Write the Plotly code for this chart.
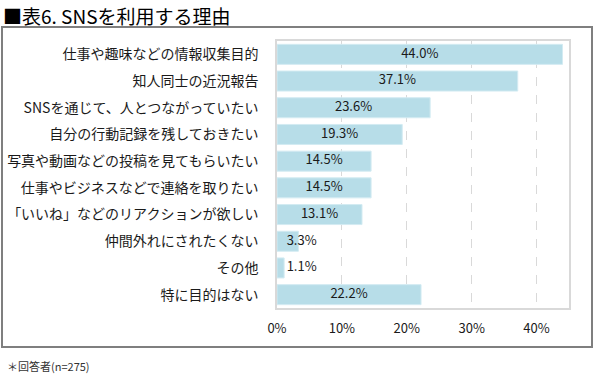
import plotly.graph_objects as go

categories = [
    "仕事や趣味などの情報収集目的",
    "知人同士の近況報告",
    "SNSを通じて、人とつながっていたい",
    "自分の行動記録を残しておきたい",
    "写真や動画などの投稿を見てもらいたい",
    "仕事やビジネスなどで連絡を取りたい",
    "「いいね」などのリアクションが欲しい",
    "仲間外れにされたくない",
    "その他",
    "特に目的はない",
]
values = [44.0, 37.1, 23.6, 19.3, 14.5, 14.5, 13.1, 3.3, 1.1, 22.2]
tick_vals = [0, 10, 20, 30, 40]
tick_text = ["0%", "10%", "20%", "30%", "40%"]
title_text = "■表6. SNSを利用する理由"
note_text = "＊回答者(n=275)"

FONT = "Noto Sans CJK JP"
W, H = 601, 375
ML, MR, MT, MB = 277, 32, 41, 67
pw, ph = W - ML - MR, H - MT - MB

def px_x(p):
    return (p - ML) / pw

def px_y(p):
    return (H - MB - p) / ph

fig = go.Figure()
fig.add_trace(go.Bar(
    x=values, y=categories, orientation="h",
    marker=dict(color="#B7DDE8", line=dict(color="#D3EBF2", width=1)),
    width=0.75, hoverinfo="skip",
))
label_x = [max(v / 2, 3.8) for v in values]
fig.add_trace(go.Scatter(
    x=label_x, y=categories, mode="text",
    text=[f"{v:.1f}%" for v in values],
    textposition="middle center",
    textfont=dict(family=FONT, size=13, color="#1a1a1a"),
    hoverinfo="skip",
))

fig.update_layout(
    width=W, height=H,
    margin=dict(l=ML, r=MR, t=MT, b=MB, autoexpand=False),
    paper_bgcolor="white", plot_bgcolor="white",
    showlegend=False,
    font=dict(family=FONT, size=13, color="#1a1a1a"),
    xaxis=dict(
        range=[0, 45], tickvals=tick_vals, ticktext=tick_text,
        showgrid=True, gridcolor="#D9D9D9", griddash="dash", gridwidth=1,
        zeroline=False, showline=True, mirror=True,
        linecolor="#D9D9D9", linewidth=1.5,
        tickfont=dict(family=FONT, size=13), ticks="",
        ticklabelstandoff=8, automargin=False,
    ),
    yaxis=dict(
        autorange="reversed", showgrid=False, zeroline=False,
        showline=True, mirror=True, linecolor="#D9D9D9", linewidth=1.5,
        tickfont=dict(family=FONT, size=14), ticks="",
        ticklabelstandoff=14, automargin=False,
    ),
    bargap=0.25,
    shapes=[dict(
        type="rect", xref="paper", yref="paper",
        x0=px_x(2), x1=px_x(592), y0=px_y(347), y1=px_y(27),
        line=dict(color="#7F7F7F", width=2), fillcolor="rgba(0,0,0,0)",
        layer="below",
    )],
    annotations=[
        dict(text=title_text, xref="paper", yref="paper",
             x=px_x(1), y=px_y(0), xanchor="left", yanchor="top",
             showarrow=False, font=dict(family=FONT, size=19, color="#000000")),
        dict(text=note_text, xref="paper", yref="paper",
             x=px_x(5), y=px_y(366), xanchor="left", yanchor="middle",
             showarrow=False, font=dict(family=FONT, size=11, color="#333333")),
    ],
)

fig.write_html(
    "out.html",
    config={"displayModeBar": False, "responsive": False},
    post_script=(
        "document.documentElement.style.margin='0';"
        "document.documentElement.style.padding='0';"
        "document.documentElement.style.overflow='hidden';"
        "document.body.style.margin='0';"
        "document.body.style.padding='0';"
        "document.body.style.overflow='hidden';"
    ),
)
